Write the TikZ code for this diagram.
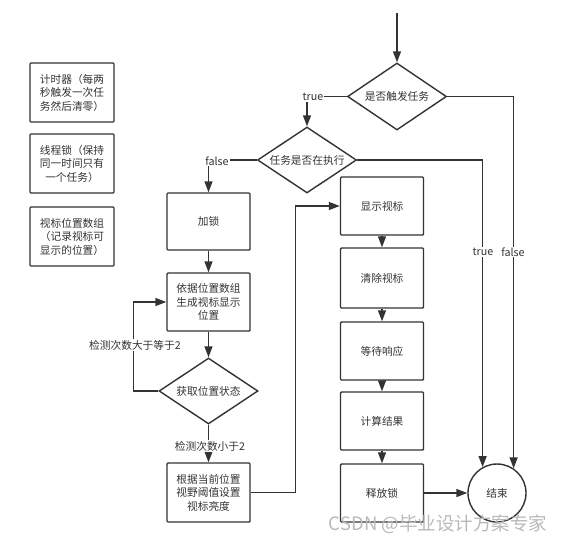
\documentclass[tikz,border=0pt]{standalone}
\usepackage{fontspec}
\setmainfont{Noto Sans CJK SC}
\usetikzlibrary{shapes.geometric,arrows.meta}
\definecolor{ink}{HTML}{333333}
\begin{document}
\begin{tikzpicture}[x=1pt,y=-1pt,
  every node/.style={font=\fontsize{10.7}{13.5}\selectfont, text=ink},
  box/.style={draw=ink, line width=1.4pt, rounded corners=1pt, minimum width=83pt, minimum height=58pt, align=center, inner sep=0pt},
  dia/.style={diamond, draw=ink, line width=1.4pt, minimum width=99pt, minimum height=67pt, inner sep=0pt, aspect=1.5},
  arr/.style={draw=ink, line width=1.4pt, -{Triangle[width=8pt,length=11pt]}},
  lbl/.style={fill=white, inner sep=1pt}
]
\useasboundingbox (0,0) rectangle (569,544);

% legend boxes
\node[box, minimum width=84pt, minimum height=59pt] (timer) at (72,92.5) {计时器（每两\\秒触发一次任\\务然后清零）};
\node[box, minimum width=84pt, minimum height=59pt] (tlock) at (72,163.5) {线程锁（保持\\同一时间只有\\一个任务）};
\node[box, minimum width=84pt, minimum height=59pt] (arrayb) at (72,236.5) {视标位置数组\\（记录视标可\\显示的位置）};

% main flow
\coordinate (start) at (397,13);
\node[dia] (d1) at (397,96.5) {是否触发任务};
\node[dia, minimum height=66pt] (d2) at (307,160) {任务是否在执行};
\node[box, minimum height=57pt] (lock) at (208.5,221.5) {加锁};
\node[box] (gen) at (208.5,302) {依据位置数组\\生成视标显示\\位置};
\node[dia, minimum height=66pt] (get) at (208.5,391) {获取位置状态};
\node[box, minimum height=59pt] (setb) at (208.5,492.5) {根据当前位置\\视野阈值设置\\视标亮度};

\node[box] (show) at (382,206) {显示视标};
\node[box, minimum height=60pt] (clear) at (382,278) {清除视标};
\node[box] (wait) at (382,351) {等待响应};
\node[box] (calc) at (382,421) {计算结果};
\node[box] (rel) at (382,493) {释放锁};
\node[circle, draw=ink, line width=1.4pt, minimum size=58pt, inner sep=0pt] (end) at (497,493) {结束};

% connectors
\draw[arr] (start) -- (d1.north);
\draw[arr] (d1.west) -| (d2.north);
\node[lbl] (t1) at (313,97) {true};
\draw[arr] (d2.west) -| (lock.north);
\node[lbl] (f1) at (217,161) {false};
\draw[arr] (lock) -- (gen);
\draw[arr] (gen) -- (get);
\draw[arr] (get.west) -- ++(-25,0) |- (gen.west);
\node[lbl] (l1) at (135,345) {检测次数大于等于2};
\draw[arr] (get.south) -- (setb.north);
\node[lbl] (l2) at (210,446) {检测次数小于2};
\draw[arr] (setb.east) -- ++(45,0) |- (show.west);
\draw[arr] (show) -- (clear);
\draw[arr] (clear) -- (wait);
\draw[arr] (wait) -- (calc);
\draw[arr] (calc) -- (rel);
\draw[arr] (rel) -- (end);
\draw[arr] (d2.east) -| (end.119);
\node[lbl] (t2) at (483,252) {true};
\draw[arr] (d1.east) -| (end.56.5);
\node[lbl] (f2) at (513,252) {false};

% watermark
\node[text=gray!55, font=\fontsize{18.5}{18.5}\selectfont] (wm) at (438,524) {CSDN @毕业设计方案专家};
\end{tikzpicture}
\end{document}
